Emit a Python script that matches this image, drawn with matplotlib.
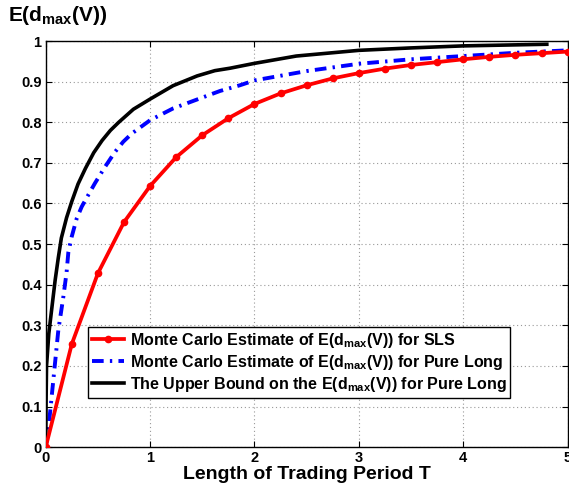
import matplotlib
matplotlib.use("Agg")
import matplotlib.pyplot as plt

plt.rcParams['font.family'] = ['Liberation Sans', 'DejaVu Sans']
plt.rcParams['font.weight'] = 'bold'
plt.rcParams['mathtext.fontset'] = 'custom'
plt.rcParams['mathtext.rm'] = 'Liberation Sans:bold'
plt.rcParams['mathtext.bf'] = 'Liberation Sans:bold'
plt.rcParams['mathtext.it'] = 'Liberation Sans:bold'

# SLS Monte Carlo estimate (markers every 0.25)
T_sls = [0, 0.25, 0.5, 0.75, 1.0, 1.25, 1.5, 1.75, 2.0, 2.25, 2.5, 2.75, 3.0,
         3.25, 3.5, 3.75, 4.0, 4.25, 4.5, 4.75, 5.0]
E_sls = [0, 0.254, 0.428, 0.554, 0.643, 0.714, 0.768, 0.810, 0.845, 0.871, 0.891,
         0.908, 0.921, 0.932, 0.941, 0.948, 0.955, 0.961, 0.966, 0.970, 0.974]

# Pure long Monte Carlo estimate
T_pl = [0, 0.025, 0.073, 0.121, 0.169, 0.2, 0.217, 0.249, 0.297, 0.345, 0.408,
        0.472, 0.568, 0.664, 0.743, 0.824, 1.0, 1.22, 1.45, 1.67, 1.86, 2.0,
        2.5, 3.0, 3.5, 4.0, 4.5, 5.0]
E_pl = [0, 0.042, 0.165, 0.288, 0.37, 0.43, 0.48, 0.518, 0.563, 0.592, 0.621,
        0.65, 0.69, 0.727, 0.752, 0.772, 0.805, 0.834, 0.856, 0.877, 0.891, 0.903,
        0.926, 0.944, 0.955, 0.963, 0.971, 0.977]

# Upper bound for pure long
T_ub = [0, 0.003, 0.008, 0.03, 0.06, 0.09, 0.12, 0.15, 0.2, 0.25, 0.31, 0.38,
        0.46, 0.54, 0.62, 0.70, 0.84, 1.0, 1.22, 1.45, 1.62, 1.765, 2.0, 2.4,
        3.0, 3.5, 4.0, 4.8]
E_ub = [0, 0.1, 0.2, 0.28, 0.345, 0.41, 0.465, 0.515, 0.565, 0.605, 0.648, 0.686,
        0.725, 0.755, 0.78, 0.80, 0.832, 0.857, 0.890, 0.914, 0.927, 0.933, 0.945,
        0.963, 0.977, 0.983, 0.988, 0.992]

labels = [r'Monte Carlo Estimate of $\mathrm{E(d_{max}(V))}$ for SLS',
          r'Monte Carlo Estimate of $\mathrm{E(d_{max}(V))}$ for Pure Long',
          r'The Upper Bound on the $\mathrm{E(d_{max}(V))}$ for Pure Long']

fig = plt.figure(figsize=(5.69, 4.83), dpi=100)
ax = fig.add_axes([0.0803, 0.0741, 0.9174, 0.8410])

ax.plot(T_sls, E_sls, color='#ff0000', lw=2.7, marker='o', ms=4.5, label=labels[0], zorder=3)
ax.plot(T_pl, E_pl, color='#0000ff', lw=2.8, dashes=(3, 1.6, 0.6, 1.6), label=labels[1], zorder=2)
ax.plot(T_ub, E_ub, color='black', lw=2.6, label=labels[2], zorder=2)

ax.set_xlim(0, 5)
ax.set_ylim(0, 1)
ax.set_xticks([0, 1, 2, 3, 4, 5])
ax.set_yticks([i / 10 for i in range(11)])
ax.set_yticklabels(['0', '0.1', '0.2', '0.3', '0.4', '0.5', '0.6', '0.7', '0.8', '0.9', '1'])
ax.grid(True, color='#999999', linestyle=(0, (1, 2.5)), linewidth=0.8)
ax.tick_params(direction='in', top=True, right=True, labelsize=10.5, length=4, width=0.8, pad=3)
for lab in ax.get_xticklabels() + ax.get_yticklabels():
    lab.set_fontweight('bold')
for s in ax.spines.values():
    s.set_linewidth(1.0)

ax.set_xlabel('Length of Trading Period T', fontsize=14, fontweight='bold', labelpad=0.5)
fig.text(0.014, 0.968, r'$\mathrm{E(d_{max}(V))}$', fontsize=15, ha='left', va='center')

leg = ax.legend(loc='lower left', bbox_to_anchor=(0.081, 0.121), fontsize=11.5,
                frameon=True, fancybox=False, edgecolor='black', framealpha=1,
                handlelength=2.0, handletextpad=0.35, borderpad=0.25, labelspacing=0.2,
                borderaxespad=0)
leg.get_frame().set_linewidth(1.0)
for t in leg.get_texts():
    t.set_fontweight('bold')

fig.savefig('out.png', dpi=100)
